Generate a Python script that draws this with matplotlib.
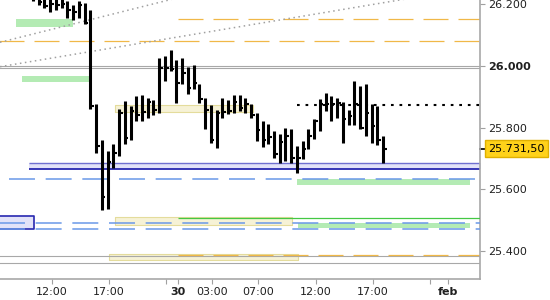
import numpy as np
import matplotlib.pyplot as plt
from matplotlib.transforms import blended_transform_factory

# 30 min bars (index points), x = bar number
highs = [26250, 26230, 26225, 26230, 26225, 26220, 26210, 26197, 26210, 26203,
         26181, 25876, 25760, 25724, 25747, 25860, 25886, 25870, 25902, 25905,
         25896, 25889, 26025, 26032, 26051, 26019, 26025, 25996, 26002, 25941,
         25896, 25873, 25857, 25896, 25889, 25905, 25905, 25896, 25876, 25847,
         25821, 25811, 25789, 25779, 25798, 25795, 25740, 25756, 25795, 25828,
         25892, 25912, 25902, 25896, 25883, 25857, 25951, 25934, 25941, 25876,
         25870, 25773]
lows = [26210, 26197, 26187, 26174, 26181, 26187, 26155, 26148, 26155, 26135,
        25860, 25718, 25533, 25536, 25669, 25708, 25747, 25760, 25821, 25821,
        25831, 25841, 25847, 25951, 25983, 25879, 25941, 25909, 25925, 25879,
        25795, 25750, 25734, 25831, 25844, 25847, 25854, 25847, 25831, 25756,
        25737, 25747, 25701, 25685, 25692, 25685, 25653, 25698, 25730, 25763,
        25789, 25854, 25821, 25831, 25750, 25808, 25808, 25795, 25773, 25750,
        25743, 25685]
closes = [26230, 26205, 26194, 26200, 26197, 26200, 26181, 26174, 26197, 26138,
          25870, 25740, 25575, 25688, 25718, 25847, 25766, 25854, 25841, 25850,
          25883, 25857, 25993, 25993, 25990, 25944, 25977, 25928, 25944, 25892,
          25857, 25760, 25847, 25850, 25854, 25883, 25863, 25876, 25841, 25792,
          25760, 25769, 25714, 25753, 25773, 25701, 25701, 25730, 25773, 25821,
          25876, 25876, 25876, 25879, 25828, 25837, 25876, 25798, 25847, 25805,
          25760, 25731.5]

# time axis (bar index positions)
tick_pos = [3.25, 13.25, 23.25, 25.25, 31.25, 39.25, 49.25, 59.25, 69.25, 72.25]
tick_labels = ['12:00', '17:00', '', '30', '03:00', '07:00', '12:00', '17:00', '', 'feb']
day_start = 25.25

price_ticks = [25400, 25600, 25800, 26000, 26200]

# levels
gray_levels = [26000, 25993, 25383, 25361]
orange_levels = [(26080, -6), (26150, day_start), (25386, day_start)]
blue_dashed = [(25632, -4.2), (25490, -6), (25472, -6)]
green_line = 25506
dotted_level = (25873, 46.0)
trend_lines = [(-5.75, 26076, 40.0, 26289), (-5.75, 25997, 80.0, 26263)]
green_bands = [(-3.0, 7.0, 26127, 26151), (-1.9, 9.9, 25948, 25967),
               (46.0, 76.1, 25614, 25632), (46.1, 76.1, 25475, 25490)]
khaki_bands = [(14.3, 38.3, 25851, 25873), (14.3, 45.1, 25483, 25509),
               (13.3, 46.1, 25370, 25391)]
blue_band = (-0.7, 80.0, 25665, 25686)
blue_box = (-6.0, 0.17, 25472, 25514)


def it_fmt(v, dec):
    # italian style: 25.731,50
    s = '{:,.{}f}'.format(v, dec)
    return s.replace(',', ' ').replace('.', ',').replace(' ', '.')


fig = plt.figure(figsize=(5.5, 3), dpi=100)
ax = fig.add_axes([0, 21 / 300, 480 / 550, 279 / 300])
xmin, xmax = -5.75, 77.9
ax.set_xlim(xmin, xmax)
ax.set_ylim(25309.6, 26213)

# bands
for x0, x1, y0, y1 in green_bands:
    ax.fill_between([x0, x1], y0, y1, color='#b4ebb4', lw=0, zorder=1)
for x0, x1, y0, y1 in khaki_bands:
    ax.fill_between([x0, x1], y0, y1, facecolor='#f6f2d6', edgecolor='#e4dc9c', lw=0.8, zorder=1)
x0, x1, y0, y1 = blue_band
ax.fill_between([x0, x1], y0, y1, color='#e2e2f8', lw=0, zorder=1)
ax.hlines(y1, x0, x1, color='#7070d0', lw=1.0, zorder=2)
ax.hlines(y0, x0, x1, color='#2828b0', lw=1.3, zorder=2)
x0, x1, y0, y1 = blue_box
ax.fill_between([x0, x1], y0, y1, facecolor='#e2e2f8', edgecolor='#2828b0', lw=1.2, zorder=2)

# levels
for y in gray_levels:
    ax.axhline(y, color='#a8a8a8', lw=0.8, zorder=2)
for y, xs in orange_levels:
    ax.hlines(y, xs, xmax, color='#f0b848', lw=0.9, linestyles=(0, (20, 8)), zorder=2)
for y, xs in blue_dashed:
    ax.hlines(y, xs, xmax, color='#6a98e8', lw=1.1, linestyles=(0, (17, 7)), zorder=3)
ax.hlines(green_line, day_start, xmax, color='#44c844', lw=0.9, zorder=3)
ax.hlines(dotted_level[0], dotted_level[1], xmax, color='black', lw=1.5,
          linestyles=(0, (1.3, 2.8)), zorder=3)
for xa, ya, xb, yb in trend_lines:
    ax.plot([xa, xb], [ya, yb], color='#a0a0a0', lw=1.1, ls=(0, (1, 2.3)), zorder=2)

# OHLC bars
idx = np.arange(len(highs))
ax.vlines(idx, lows, highs, color='black', lw=2.2, zorder=5)
ax.hlines(closes, idx, idx + 0.62, color='black', lw=1.5, zorder=5)

# axes styling
for s in ['left', 'top']:
    ax.spines[s].set_visible(False)
for s in ['right', 'bottom']:
    ax.spines[s].set_color('#a8a8a8')
    ax.spines[s].set_linewidth(1.2)

ax.yaxis.tick_right()
ax.set_yticks(price_ticks)
ax.set_yticklabels([it_fmt(p, 0) for p in price_ticks])
ax.set_xticks(tick_pos)
ax.set_xticklabels(tick_labels)
ax.tick_params(axis='both', length=3.5, width=0.8, color='#a0a0a0', labelsize=8,
               labelcolor='#202020', pad=2)
for lbl in ax.get_yticklabels():
    if lbl.get_text() == '26.000':
        lbl.set_fontweight('bold')
for lbl in ax.get_xticklabels():
    if lbl.get_text() in ('30', 'feb'):
        lbl.set_fontweight('bold')

# last price marker
last = closes[-1]
tr = blended_transform_factory(ax.transAxes, ax.transData)
ax.plot([1.0, 1.011], [last, last], color='black', lw=1.2, transform=tr, clip_on=False)
ax.text(1.017, last, it_fmt(last, 2), transform=tr, va='center', ha='left',
        fontsize=8, color='black',
        bbox=dict(boxstyle='square,pad=0.3', facecolor='#ffd21a', edgecolor='#e0b000', lw=1))

fig.savefig('out.png', dpi=100)
